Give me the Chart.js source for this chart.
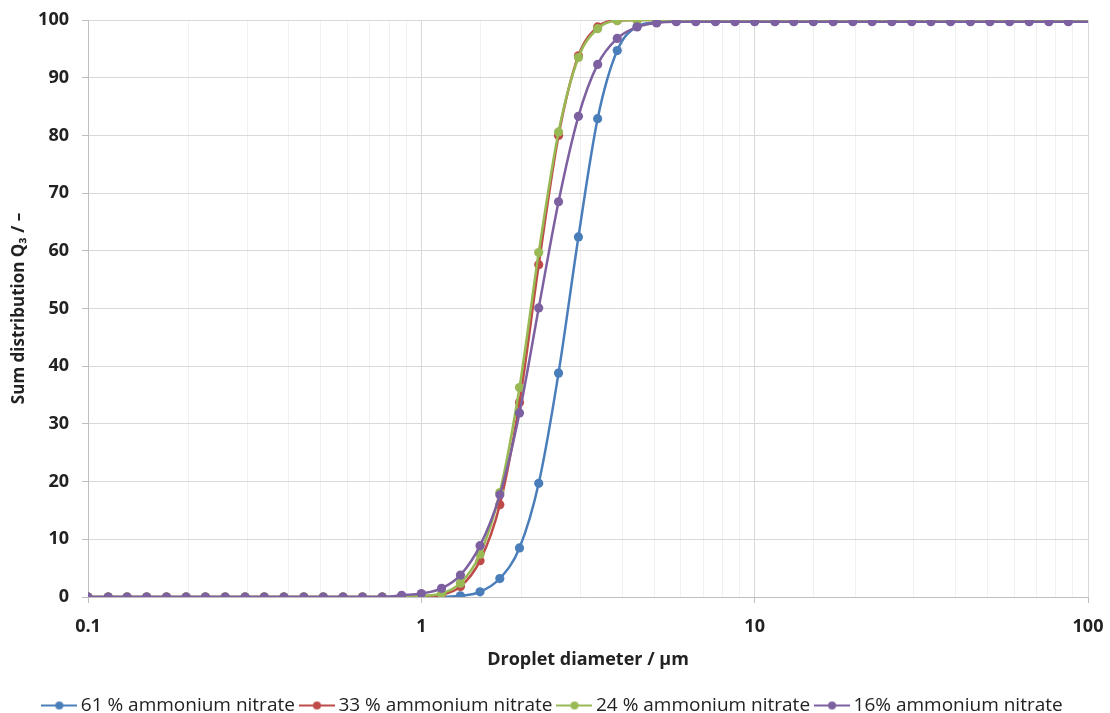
<!DOCTYPE html>
<html><head><meta charset="utf-8">
<script src="https://cdn.jsdelivr.net/npm/chart.js@4.4.1/dist/chart.umd.min.js"></script>
<style>html,body{margin:0;padding:0;background:#fff;} canvas{display:block;}</style>
</head><body>
<canvas id="c" width="1110" height="713"></canvas>
<script>
const diameters = [0.1, 0.115, 0.131, 0.150, 0.172, 0.197, 0.225, 0.258, 0.296, 0.338, 0.387, 0.444, 0.508, 0.582, 0.666, 0.763, 0.873,
  1.00, 1.15, 1.31, 1.50, 1.72, 1.97, 2.25, 2.58, 2.96, 3.38, 3.87, 4.44, 5.08, 5.82, 6.66, 7.63, 8.73,
  10.0, 11.5, 13.1, 15.0, 17.2, 19.7, 22.5, 25.8, 29.6, 33.8, 38.7, 44.4, 50.8, 58.2, 66.6, 76.3, 87.3, 100];

const seriesNames = ['61 % ammonium nitrate', '33 % ammonium nitrate', '24 % ammonium nitrate', '16% ammonium nitrate'];

const q61 = [0,0,0,0,0,0,0,0,0,0,0,0,0,0,0,0,0,
  0,0,0.2,0.9,3.2,8.5,19.7,38.8,62.4,82.9,94.7,98.9,99.6,99.8,99.8,99.8,99.8,
  99.8,99.8,99.8,99.8,99.8,99.8,99.8,99.8,99.8,99.8,99.8,99.8,99.8,99.8,99.8,99.8,99.8,99.8];
const q33 = [0,0,0,0,0,0,0,0,0,0,0,0,0,0,0,0,0,
  0.1,0.4,1.8,6.3,16.0,33.7,57.6,80.0,93.8,98.8,99.9,100,100,100,100,100,100,
  100,100,100,100,100,100,100,100,100,100,100,100,100,100,100,100,100,100];
const q24 = [0,0,0,0,0,0,0,0,0,0,0,0,0,0,0,0,0,
  0.2,0.6,2.4,7.4,18.1,36.3,59.7,80.6,93.5,98.5,99.9,100,100,100,100,100,100,
  100,100,100,100,100,100,100,100,100,100,100,100,100,100,100,100,100,100];
const q16 = [0,0,0,0,0,0,0,0,0,0,0,0,0,0,0,0,0.3,
  0.6,1.5,3.8,8.9,17.7,31.9,50.1,68.5,83.3,92.3,96.8,98.8,99.5,99.7,99.7,99.7,99.7,
  99.7,99.7,99.7,99.7,99.7,99.7,99.7,99.7,99.7,99.7,99.7,99.7,99.7,99.7,99.7,99.7,99.7,99.7];

const xTickLabels = ['0.1', '1', '10', '100'];
const yTickStep = 10;

const seriesValues = [q61, q33, q24, q16];
const colors = ['#4A7EBB', '#BE4B48', '#98B954', '#7D60A0'];
const FONT = "'Open Sans', 'Liberation Sans', sans-serif";

function legendImage(color) {
  const cv = document.createElement('canvas');
  cv.width = 36; cv.height = 12;
  const g = cv.getContext('2d');
  g.strokeStyle = color; g.lineWidth = 2;
  g.beginPath(); g.moveTo(0, 6); g.lineTo(36, 6); g.stroke();
  g.fillStyle = color;
  g.beginPath(); g.arc(18, 6, 4, 0, Math.PI * 2); g.fill();
  return cv;
}

const lastIdx = diameters.length - 1;
const datasets = seriesValues.map((vals, k) => ({
  label: seriesNames[k],
  data: vals.map((v, i) => ({x: diameters[i], y: v})),
  borderColor: colors[k],
  backgroundColor: colors[k],
  borderWidth: 2.5,
  pointRadius: (ctx) => ctx.dataIndex === lastIdx ? 0 : 4.6,
  pointHoverRadius: 4.6,
  pointBorderWidth: 0,
  pointStyle: 'circle',
  cubicInterpolationMode: 'monotone',
  order: 4 - k,
  legendImg: legendImage(colors[k])
}));

function isMajor(v) {
  const l = Math.log10(v);
  return Math.abs(l - Math.round(l)) < 1e-6;
}

new Chart(document.getElementById('c'), {
  type: 'line',
  data: { datasets },
  options: {
    responsive: false,
    animation: false,
    devicePixelRatio: 1,
    layout: { padding: { top: 20, right: 0, bottom: -12, left: 0 } },
    plugins: {
      tooltip: { enabled: false },
      legend: {
        position: 'bottom',
        labels: {
          usePointStyle: true,
          pointStyleWidth: 24,
          boxHeight: 12,
          padding: 10,
          color: '#222',
          font: { family: FONT, size: 19 },
          sort: (a, b) => a.datasetIndex - b.datasetIndex,
          generateLabels: (chart) => chart.data.datasets.map((ds, i) => ({
            text: ds.label,
            pointStyle: ds.legendImg,
            fillStyle: ds.borderColor,
            strokeStyle: ds.borderColor,
            lineWidth: 0,
            hidden: false,
            datasetIndex: i,
            fontColor: '#222'
          }))
        }
      }
    },
    scales: {
      x: {
        type: 'logarithmic',
        min: 0.1,
        max: 100,
        afterFit: (s) => { s.height = 89; s.paddingLeft = 0; s.paddingRight = 0; },
        border: { color: '#BFBFBF', width: 1 },
        grid: {
          color: (ctx) => ctx.tick && isMajor(ctx.tick.value) ? '#D9D9D9' : '#F0F0F0',
          tickColor: (ctx) => ctx.tick && isMajor(ctx.tick.value) ? '#BFBFBF' : 'rgba(0,0,0,0)',
          tickLength: 6,
          lineWidth: 1
        },
        ticks: {
          autoSkip: false,
          maxRotation: 0,
          minRotation: 0,
          padding: 13,
          color: '#222',
          font: { family: FONT, size: 18, weight: 'bold' },
          callback: (v) => {
            if (!isMajor(v)) return '';
            const idx = Math.round(Math.log10(v)) + 1;
            return xTickLabels[idx] ?? '';
          }
        },
        title: {
          display: true,
          text: 'Droplet diameter / µm',
          color: '#222',
          font: { family: FONT, size: 18, weight: 'bold' },
          padding: { top: 0, bottom: 15 }
        }
      },
      y: {
        min: 0,
        max: 100,
        afterFit: (s) => { s.width = 88; s.paddingTop = 0; s.paddingBottom = 0; },
        border: { color: '#BFBFBF', width: 1 },
        grid: { color: '#D9D9D9', tickColor: '#BFBFBF', tickLength: 6, lineWidth: 1 },
        ticks: {
          stepSize: yTickStep,
          padding: 13,
          color: '#222',
          font: { family: FONT, size: 18, weight: 'bold' }
        },
        title: {
          display: true,
          text: 'Sum distribution Q₃ / –',
          color: '#222',
          font: { family: FONT, size: 17, weight: 'bold' },
          padding: { top: 9, bottom: 0 }
        }
      },
      yRight: {
        type: 'linear',
        axis: 'y',
        position: 'right',
        display: true,
        afterFit: (s) => { s.width = 22; s.paddingTop = 0; s.paddingBottom = 0; },
        grid: { display: false, drawOnChartArea: false },
        border: { display: false },
        ticks: { display: false }
      }
    }
  }
});
</script>
</body></html>
